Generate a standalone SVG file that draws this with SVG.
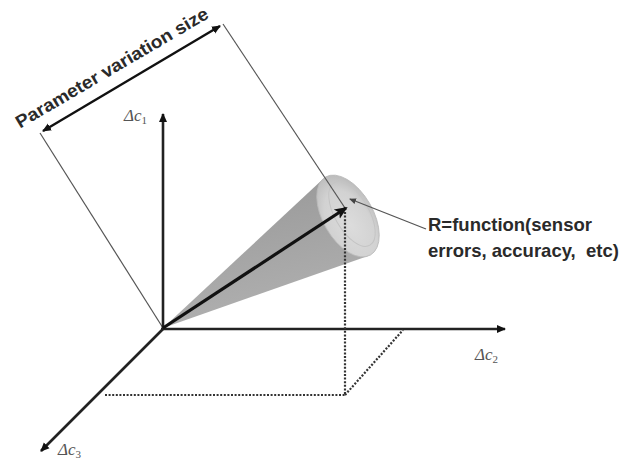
<svg xmlns="http://www.w3.org/2000/svg" width="636" height="463" viewBox="0 0 636 463">
<style>
.thin{stroke:#555;stroke-width:1.2;fill:none}
.axis{stroke:#222;stroke-width:2.6;fill:none}
.dot{stroke:#333;stroke-width:2.2;stroke-dasharray:2 1.6;fill:none}
.lbl{font-family:"Liberation Serif",serif;font-style:italic;font-size:17px;fill:#555}
.sub{font-size:11px;font-style:normal}
.note{font-family:"Liberation Sans",Arial,sans-serif;font-weight:bold;font-size:18.5px;fill:#2a2a2a;white-space:pre}
</style>
<defs>
<marker id="ah" markerWidth="10" markerHeight="10" refX="8" refY="5" orient="auto" markerUnits="userSpaceOnUse">
<path d="M0,1 L9,5 L0,9 Z" fill="#111"/>
</marker>
<marker id="ahs" markerWidth="10" markerHeight="10" refX="8" refY="5" orient="auto-start-reverse" markerUnits="userSpaceOnUse">
<path d="M0,1 L9,5 L0,9 Z" fill="#111"/>
</marker>
<marker id="ahm" markerWidth="14" markerHeight="14" refX="11" refY="7" orient="auto" markerUnits="userSpaceOnUse">
<path d="M0,1.5 L13,7 L0,12.5 L3,7 Z" fill="#111"/>
</marker>
<marker id="ahl" markerWidth="8" markerHeight="8" refX="6" refY="4" orient="auto" markerUnits="userSpaceOnUse">
<path d="M0,1 L7,4 L0,7 Z" fill="#444"/>
</marker>
<linearGradient id="body" x1="0" y1="0" x2="0.3" y2="1">
<stop offset="0" stop-color="#969696"/>
<stop offset="1" stop-color="#b0b0b0"/>
</linearGradient>
<radialGradient id="cap" cx="0.6" cy="0.55" r="0.6">
<stop offset="0" stop-color="#dcdcdc"/>
<stop offset="0.7" stop-color="#d2d2d2"/>
<stop offset="1" stop-color="#bdbdbd"/>
</radialGradient>
</defs>

<g id="cone">
<path d="M163,328 L323,179 L368,256 Z" fill="url(#body)"/>
<ellipse cx="348" cy="216" rx="45" ry="25" transform="rotate(60 348 216)" fill="url(#cap)" stroke="#bbb" stroke-width="0.8"/>
<ellipse cx="352" cy="214" rx="36" ry="17" transform="rotate(60 352 214)" fill="none" stroke="#c4c4c4" stroke-width="1"/>
</g>

<g id="connectors">
<line class="thin" x1="40" y1="133" x2="163" y2="328"/>
<line class="thin" x1="223" y1="24" x2="345" y2="208"/>
<line x1="43" y1="131" x2="220" y2="26" stroke="#111" stroke-width="2.4" marker-start="url(#ahs)" marker-end="url(#ahs)"/>
<line class="axis" x1="163" y1="330" x2="163" y2="114" marker-end="url(#ah)"/>
<line class="axis" x1="161" y1="329" x2="505" y2="329" marker-end="url(#ah)"/>
<line class="axis" x1="164" y1="328" x2="41" y2="451" marker-end="url(#ah)"/>
<line class="dot" x1="345" y1="212" x2="345" y2="395"/>
<line class="dot" x1="105" y1="395" x2="345" y2="395"/>
<line class="dot" x1="345" y1="395" x2="403" y2="330"/>
<line x1="163" y1="328" x2="346" y2="208" stroke="#111" stroke-width="3.2" marker-end="url(#ahm)"/>
<line x1="426" y1="229" x2="350" y2="199" stroke="#555" stroke-width="1.3" marker-end="url(#ahl)"/>
</g>

<g id="labels">
<text class="note" text-anchor="middle" textLength="220" lengthAdjust="spacingAndGlyphs" transform="translate(115,73) rotate(-30.4)" style="font-size:18px">Parameter variation size</text>
<text class="lbl" x="124" y="121">Δ<tspan>c</tspan><tspan class="sub" dy="3">1</tspan></text>
<text class="lbl" x="475" y="360">Δ<tspan>c</tspan><tspan class="sub" dy="3">2</tspan></text>
<text class="lbl" x="58" y="455">Δ<tspan>c</tspan><tspan class="sub" dy="3">3</tspan></text>
<text class="note" x="428" y="231">R=function(sensor</text>
<text class="note" x="428" y="257">errors, accuracy,  etc)</text>
</g>
</svg>
